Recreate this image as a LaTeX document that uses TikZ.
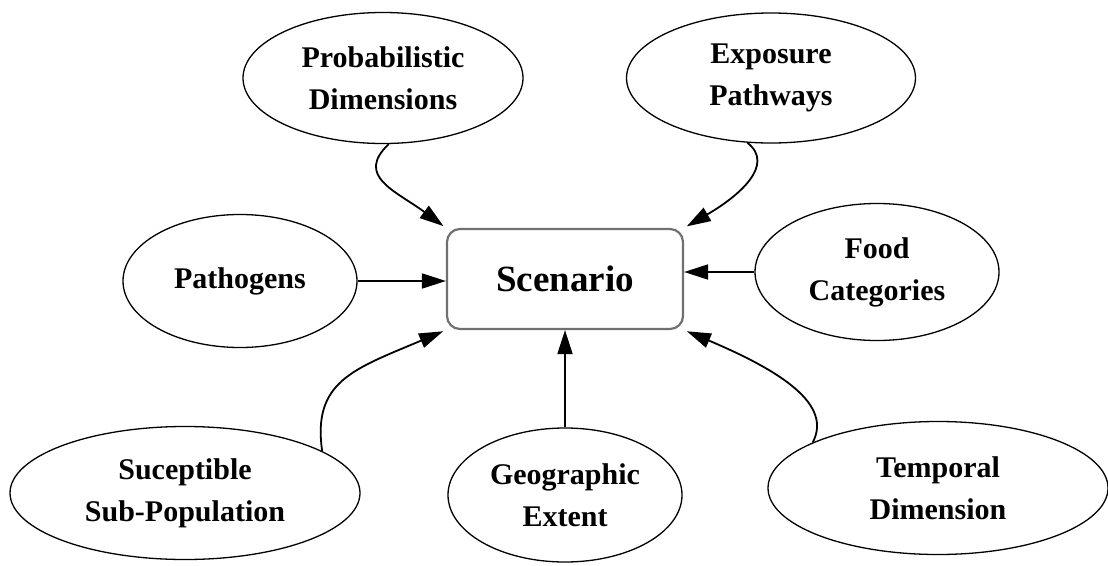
\documentclass[tikz,border=0pt]{standalone}
\usepackage{fontspec}
\setmainfont{Liberation Serif}
\usetikzlibrary{arrows.meta,shapes.geometric}
\definecolor{boxgray}{RGB}{112,112,112}
\begin{document}
\begin{tikzpicture}[x=1pt,y=-1pt,
  topic/.style={ellipse,draw=black,line width=1.3pt,inner sep=0pt,align=center,
    font=\fontsize{30}{42}\selectfont\bfseries},
  hub/.style={rectangle,rounded corners=13pt,draw=boxgray,line width=2.2pt,
    minimum width=236pt,minimum height=100pt,inner sep=0pt,
    font=\fontsize{37}{42}\selectfont\bfseries},
  link/.style={line width=1.8pt,-{Triangle[length=24pt,width=15pt]}}]

% canvas
\fill[white] (0,0) rectangle (1108,565);
\useasboundingbox (0,0) rectangle (1108,565);

% central box
\node[hub] (scen) at (565,279) {Scenario};

% surrounding factors
\node[topic,minimum width=280pt,minimum height=131pt] (prob) at (383,78) {Probabilistic\\Dimensions};
\node[topic,minimum width=289pt,minimum height=130pt] (expo) at (771,78) {Exposure\\Pathways};
\node[topic,minimum width=234pt,minimum height=133pt] (pat)  at (240,281) {Pathogens};
\node[topic,minimum width=244pt,minimum height=137pt] (food) at (877,272) {Food\\Categories};
\node[topic,minimum width=350pt,minimum height=133pt] (sus)  at (185,493) {Suceptible\\Sub-Population};
\node[topic,minimum width=234pt,minimum height=134pt] (geo)  at (565,495) {Geographic\\Extent};
\node[topic,minimum width=340pt,minimum height=133pt] (temp) at (938,488) {Temporal\\Dimension};

% connectors into the box
\draw[link,shorten >=3pt] (prob.-85) .. controls +(-34,32) and +(-50,-37) .. (scen.north west);
\draw[link,shorten >=3pt] (expo.-110) .. controls +(28,22) and +(55,-32) .. (scen.north east);
\draw[link] (pat.east) -- (pat.east -| scen.west);
\draw[link] (food.west) -- (food.west -| scen.east);
\draw[link,shorten >=3pt] (sus.17) .. controls +(-10,-70) and +(-92,39) .. (scen.south west);
\draw[link] (geo) -- (scen);
\draw[link,shorten >=3pt] (temp.160) .. controls +(20,-38) and +(97,41) .. (scen.south east);
\end{tikzpicture}
\end{document}
